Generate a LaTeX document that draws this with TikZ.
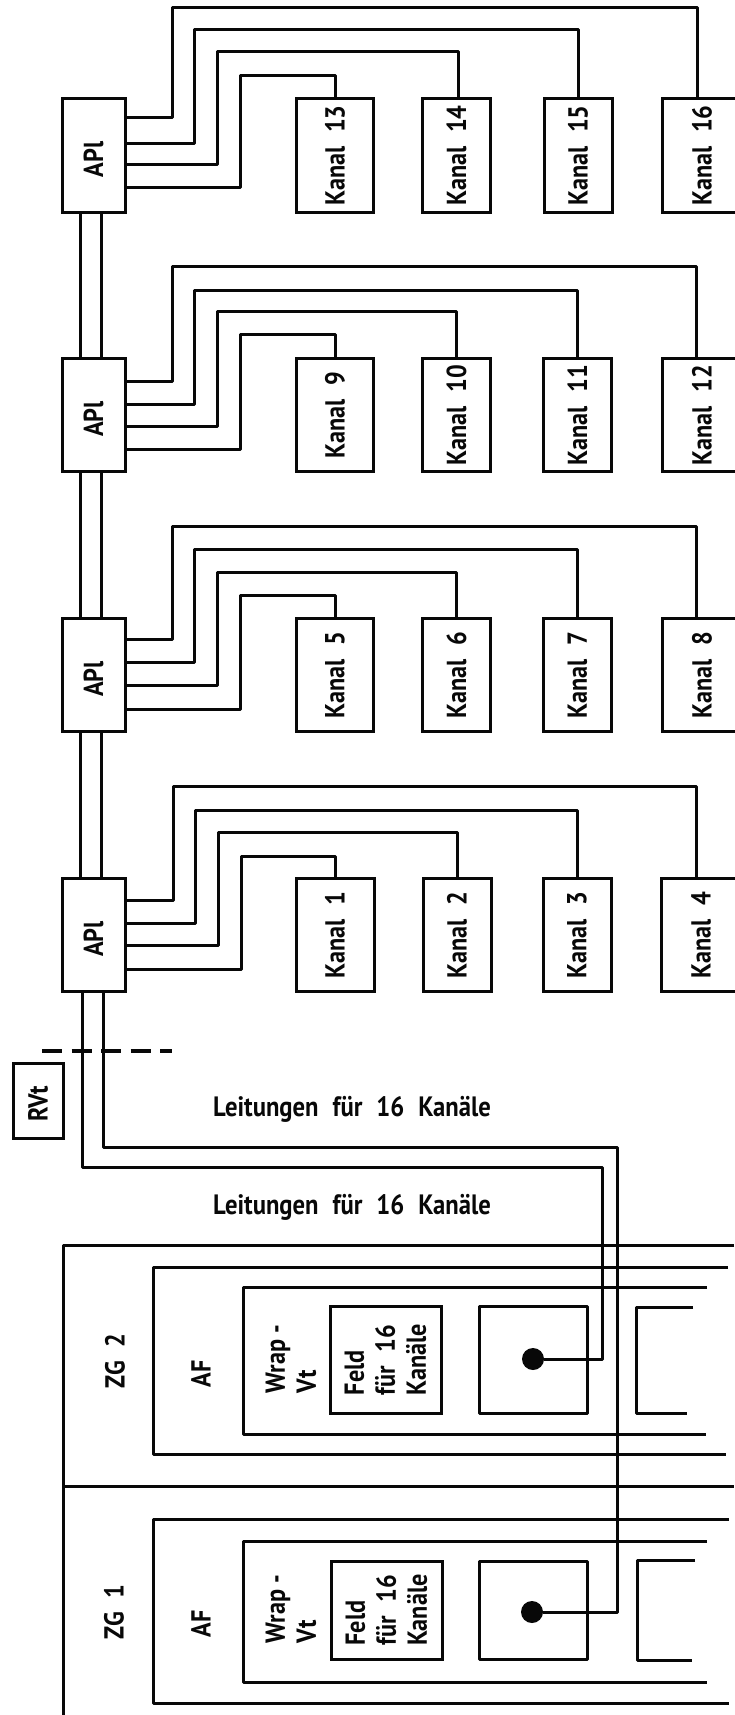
\documentclass[tikz,border=0pt]{standalone}
\usepackage{fontspec}
\setmainfont{PT Sans}[FakeStretch=0.88]
\usetikzlibrary{positioning, calc}
\definecolor{inkblack}{RGB}{8, 8, 8}
\newcommand{\vtext}[1]{\rotatebox{90}{#1}}
\newcommand{\gap}{\hspace{0.5em}}
\tikzset{
  wire/.style={inkblack, line width=3pt, line join=round},
  thinwire/.style={inkblack, line width=2.6pt},
  framebox/.style={draw=inkblack, line width=3pt, inner sep=0pt, font=\fontsize{27.5}{31}\selectfont\bfseries\color{inkblack}},
  apibox/.style={framebox, minimum width=63pt, minimum height=113pt},
  kanalbox/.style={framebox, minimum width=68pt, minimum height=113pt},
  feldbox/.style={framebox, rotate=90, minimum width=98pt, minimum height=111pt, align=left},
  vlabel/.style={rotate=90, inner sep=0pt, align=left, font=\fontsize{27.5}{31}\selectfont\bfseries\color{inkblack}},
  hlabel/.style={inner sep=0pt, font=\fontsize{28}{30}\selectfont\bfseries\color{inkblack}},
  plugdot/.style={circle, fill=inkblack, inner sep=0pt, minimum size=22pt}
}

\begin{document}
\begin{tikzpicture}[x=1pt, y=-1pt]
    \useasboundingbox (0,0) rectangle (734,1715);
    \fill[white] (0,0) rectangle (734,1715);

    % API boxes
    \node[apibox] (api4) at (93.5,155.5) {\vtext{APl\hspace{8pt}}};
    \node[apibox] (api3) at (93.5,415) {\vtext{APl\hspace{8pt}}};
    \node[apibox] (api2) at (93.5,675) {\vtext{APl\hspace{8pt}}};
    \node[apibox] (api1) at (93.5,935) {\vtext{APl\hspace{8pt}}};

    % Kanal boxes (the last column runs off the page)
    \node[kanalbox, minimum width=77pt] (kanal13) at (335,155.5) {\vtext{Kanal\gap 13}};
    \node[kanalbox] (kanal14) at (456.5,155.5) {\vtext{Kanal\gap 14}};
    \node[kanalbox] (kanal15) at (578,155.5) {\vtext{Kanal\gap 15}};
    \node[kanalbox, minimum width=80pt] (kanal16) at (702,155.5) {\vtext{Kanal\gap 16}\hspace{10pt}};
    \node[kanalbox, minimum width=77pt] (kanal9) at (335,415) {\vtext{Kanal\gap 9}};
    \node[kanalbox] (kanal10) at (456.5,415) {\vtext{Kanal\gap 10}};
    \node[kanalbox] (kanal11) at (577.5,415) {\vtext{Kanal\gap 11}};
    \node[kanalbox, minimum width=80pt] (kanal12) at (702,415) {\vtext{Kanal\gap 12}\hspace{10pt}};
    \node[kanalbox, minimum width=77pt] (kanal5) at (335,675) {\vtext{Kanal\gap 5}};
    \node[kanalbox] (kanal6) at (456.5,675) {\vtext{Kanal\gap 6}};
    \node[kanalbox] (kanal7) at (577.5,675) {\vtext{Kanal\gap 7}};
    \node[kanalbox, minimum width=80pt] (kanal8) at (702,675) {\vtext{Kanal\gap 8}\hspace{10pt}};
    \node[kanalbox, minimum width=78pt] (kanal1) at (335,935) {\vtext{Kanal\gap 1}};
    \node[kanalbox] (kanal2) at (457,935) {\vtext{Kanal\gap 2}};
    \node[kanalbox] (kanal3) at (577,935) {\vtext{Kanal\gap 3}};
    \node[kanalbox, minimum width=80pt] (kanal4) at (701,935) {\vtext{Kanal\gap 4}\hspace{10pt}};

    % Kanal wires, top row
    \draw[wire] (api4.east |- 0,118) -- (172,118) -- (172,8) -- (697,8) -- ([xshift=-5pt]kanal16.north);
    \draw[wire] (api4.east |- 0,144) -- (194,144) -- (194,30) -| (kanal15.north);
    \draw[wire] (api4.east |- 0,165) -- (217,165) -- (217,52) -| ([xshift=1.5pt]kanal14.north);
    \draw[wire] (api4.east |- 0,188) -- (240,188) -- (240,76) -| (kanal13.north);
    % Kanal wires, second row
    \draw[wire] (api3.east |- 0,381) -- (172,381) -- (172,266) -- (696,266) -- ([xshift=-6pt]kanal12.north);
    \draw[wire] (api3.east |- 0,404) -- (194,404) -- (194,290) -| (kanal11.north);
    \draw[wire] (api3.east |- 0,426) -- (217,426) -- (217,311) -| (kanal10.north);
    \draw[wire] (api3.east |- 0,449) -- (240,449) -- (240,334) -| (kanal9.north);
    % Kanal wires, third row
    \draw[wire] (api2.east |- 0,639) -- (172,639) -- (172,526) -- (696,526) -- ([xshift=-6pt]kanal8.north);
    \draw[wire] (api2.east |- 0,662) -- (194,662) -- (194,549) -| (kanal7.north);
    \draw[wire] (api2.east |- 0,685) -- (217,685) -- (217,572) -| (kanal6.north);
    \draw[wire] (api2.east |- 0,709) -- (240,709) -- (240,595) -| (kanal5.north);
    % Kanal wires, bottom row
    \draw[wire] (api1.east |- 0,900) -- (173,900) -- (173,786) -- (696,786) -- ([xshift=-5pt]kanal4.north);
    \draw[wire] (api1.east |- 0,923) -- (195,923) -- (195,810) -| (kanal3.north);
    \draw[wire] (api1.east |- 0,945) -- (218,945) -- (218,832) -| (kanal2.north);
    \draw[wire] (api1.east |- 0,969) -- (241,969) -- (241,856) -| (kanal1.north);

    % Double line between the API boxes
    \draw[thinwire] ([xshift=-13pt]api4.south) -- ([xshift=-13pt]api3.north);
    \draw[thinwire] ([xshift=8pt]api4.south) -- ([xshift=8pt]api3.north);
    \draw[thinwire] ([xshift=-13pt]api3.south) -- ([xshift=-13pt]api2.north);
    \draw[thinwire] ([xshift=8pt]api3.south) -- ([xshift=8pt]api2.north);
    \draw[thinwire] ([xshift=-13pt]api2.south) -- ([xshift=-13pt]api1.north);
    \draw[thinwire] ([xshift=8pt]api2.south) -- ([xshift=8pt]api1.north);

    % Cut mark and RVt
    \draw[inkblack, line width=3.2pt, dash pattern=on 20pt off 9.5pt] (42,1051) -- (172,1051);
    \node[framebox, minimum width=50pt, minimum height=75pt] (rvt) at (38,1101) {\vtext{RVt\hspace{6pt}}};

    % Line labels
    \node[hlabel] (leitungen1) at (352,1109) {Leitungen\gap für\gap 16\gap Kanäle};
    \node[hlabel] (leitungen2) at (352,1207) {Leitungen\gap für\gap 16\gap Kanäle};

    % ZG frame
    \draw[wire] (734,1245) -- (63,1245) -- (63,1715);
    \draw[wire] (63,1486) -- (734,1486);
    \node[vlabel] (zg2) at (115,1361) {ZG\gap 2};
    \node[vlabel] (zg1) at (114,1612) {ZG\gap 1};

    % AF brackets
    \draw[wire] (728,1267) -- (153.5,1267) -- (153.5,1454) -- (726,1454);
    \draw[wire] (729,1519) -- (153.5,1519) -- (153.5,1703) -- (729,1703);
    \node[vlabel] (af2) at (201,1374) {AF};
    \node[vlabel] (af1) at (201,1624) {AF};

    % Wrap-Vt brackets
    \draw[wire] (707,1287) -- (243.5,1287) -- (243.5,1434) -- (706,1434);
    \draw[wire] (707,1541) -- (243.5,1541) -- (243.5,1682) -- (707,1682);
    \node[vlabel] (wrap2) at (291,1359) {Wrap -\\Vt};
    \node[vlabel] (wrap1) at (291,1609) {Wrap -\\Vt};

    % Feld boxes
    \node[feldbox, minimum width=107pt] (feld2) at (385.5,1359.5) {Feld\\für\gap 16\\Kanäle};
    \node[feldbox] (feld1) at (386.5,1610) {Feld\\für\gap 16\\Kanäle};

    % Plug squares with their dots
    \draw[wire] (479,1306) rectangle (587,1413);
    \draw[wire] (479,1561) rectangle (587,1659);
    \node[plugdot] (dot2) at (533,1359) {};
    \node[plugdot] (dot1) at (532,1612) {};

    % Open squares at the page edge
    \draw[wire] (693,1307) -- (636,1307) -- (636,1413) -- (687,1413);
    \draw[wire] (695,1560) -- (637,1560) -- (637,1660) -- (692,1660);

    % Lines down to the dots
    \draw[wire] ([xshift=-11.5pt]api1.south) |- (602,1167) |- (dot2);
    \draw[wire] ([xshift=9.5pt]api1.south) |- (617,1147) |- (dot1);
\end{tikzpicture}
\end{document}
